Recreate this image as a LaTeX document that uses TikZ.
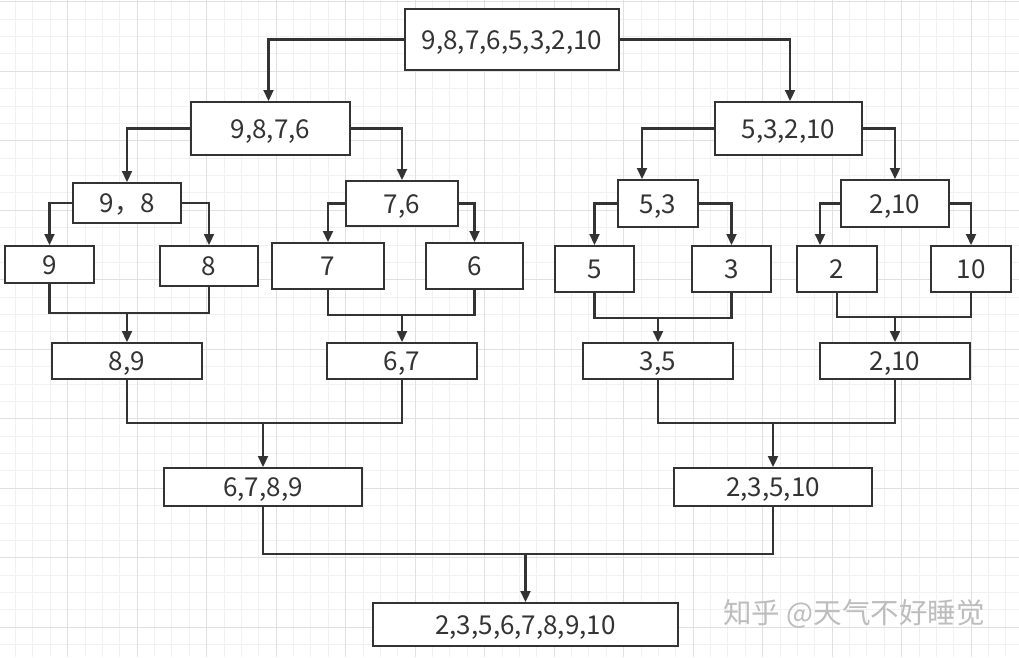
\documentclass[tikz,border=0pt]{standalone}
\usepackage{fontspec}
\setmainfont{Noto Sans CJK SC}
\usetikzlibrary{arrows.meta}
\definecolor{ink}{HTML}{333333}
\definecolor{gridminor}{HTML}{F1F1F1}
\definecolor{gridmajor}{HTML}{E0E0E0}
\definecolor{wm}{HTML}{BDBDBD}
\begin{document}
\begin{tikzpicture}[x=1pt,y=-1pt,
  box/.style={draw=ink, line width=2pt, fill=white, inner sep=0pt, text=ink,
    text height=19pt, text depth=0pt,
    font=\fontsize{26}{30}\selectfont},
  conn/.style={draw=ink, line width=2.2pt},
  arr/.style={conn, -{Triangle[length=11pt,width=10pt]}},
  minorline/.style={draw=gridminor, line width=1pt},
  majorline/.style={draw=gridmajor, line width=1pt},
  wmark/.style={text=wm, font=\fontsize{28.5}{32}\selectfont}]
\useasboundingbox (0,0) rectangle (1019,657);
\fill[white] (0,0) rectangle (1019,657);
% grid
\foreach \i in {0,...,59} {
  \pgfmathsetmacro{\gx}{-1.8+17.375*\i}
  \draw[minorline] (\gx,0) -- (\gx,657);
}
\foreach \i in {0,...,38} {
  \pgfmathsetmacro{\gy}{1.8+17.375*\i}
  \draw[minorline] (0,\gy) -- (1019,\gy);
}
\foreach \i in {0,...,15} {
  \pgfmathsetmacro{\gx}{-1.8+69.5*\i}
  \draw[majorline] (\gx,0) -- (\gx,657);
}
\foreach \i in {0,...,9} {
  \pgfmathsetmacro{\gy}{1.8+69.5*\i}
  \draw[majorline] (0,\gy) -- (1019,\gy);
}
% boxes
\node[box, minimum width=214pt, minimum height=61pt] (root) at (512,39.5) {9,8,7,6,5,3,2,10};
\node[box, minimum width=159pt, minimum height=53pt] (n9876) at (270.5,128.5) {9,8,7,6};
\node[box, minimum width=147pt, minimum height=53pt] (n53210) at (788.5,128.5) {5,3,2,10};
\node[box, minimum width=108pt, minimum height=40pt] (n98) at (127,203) {9，8};
\node[box, minimum width=112pt, minimum height=45pt] (n76) at (402,203.5) {7,6};
\node[box, minimum width=80pt, minimum height=47pt] (n53) at (658,203.5) {5,3};
\node[box, minimum width=108pt, minimum height=47pt] (n210) at (895,203.5) {2,10};
\node[box, minimum width=89pt, minimum height=37pt] (n9) at (49.5,264.5) {9};
\node[box, minimum width=98pt, minimum height=40pt] (n8) at (209,266) {8};
\node[box, minimum width=112pt, minimum height=46pt] (n7) at (328,266) {7};
\node[box, minimum width=97pt, minimum height=46pt] (n6) at (474.5,266) {6};
\node[box, minimum width=79pt, minimum height=46pt] (n5) at (594.5,269) {5};
\node[box, minimum width=79pt, minimum height=46pt] (n3) at (731.5,269) {3};
\node[box, minimum width=80pt, minimum height=46pt] (n2) at (837,269) {2};
\node[box, minimum width=80pt, minimum height=46pt] (n10) at (971,269) {10};
\node[box, minimum width=150pt, minimum height=36pt] (n89) at (127,361) {8,9};
\node[box, minimum width=150pt, minimum height=36pt] (n67) at (402,361) {6,7};
\node[box, minimum width=150pt, minimum height=36pt] (n35) at (658,361) {3,5};
\node[box, minimum width=150pt, minimum height=36pt] (n210b) at (895,361) {2,10};
\node[box, minimum width=198pt, minimum height=38pt] (n6789) at (263,487) {6,7,8,9};
\node[box, minimum width=198pt, minimum height=38pt] (n23510) at (773,487) {2,3,5,10};
\node[box, minimum width=305pt, minimum height=43pt] (final) at (525.5,624.5) {2,3,5,6,7,8,9,10};
% split connectors
\draw[arr] (root.west) -| ([xshift=-2pt]n9876.north);
\draw[arr] (root.east) -| ([xshift=1.5pt]n53210.north);
\draw[arr] (n9876.west) -| (n98.north);
\draw[arr] (n9876.east) -| (n76.north);
\draw[arr] (n53210.west) -| ([xshift=-16pt]n53.north);
\draw[arr] (n53210.east) -| (n210.north);
\draw[arr] (n98.west) -| (n9.north);
\draw[arr] (n98.east) -| (n8.north);
\draw[arr] (n76.west) -| (n7.north);
\draw[arr] (n76.east) -| (n6.north);
\draw[arr] (n53.west) -| (n5.north);
\draw[arr] (n53.east) -| (n3.north);
\draw[arr] (n210.west) -| ([xshift=-17pt]n2.north);
\draw[arr] (n210.east) -| (n10.north);
% merge connectors
\coordinate (j1) at (127,313);
\coordinate (j2) at (402,315);
\coordinate (j3) at (658,318);
\coordinate (j4) at (895,317);
\coordinate (j5) at (263,423);
\coordinate (j6) at (773,423);
\coordinate (j7) at (525.5,554);
\draw[conn] (n9.south) |- (j1) -| (n8.south);
\draw[arr] (j1) -- (n89.north);
\draw[conn] (n7.south) |- (j2) -| (n6.south);
\draw[arr] (j2) -- (n67.north);
\draw[conn] (n5.south) |- (j3) -| (n3.south);
\draw[arr] (j3) -- (n35.north);
\draw[conn] (n2.south) |- (j4) -| (n10.south);
\draw[arr] (j4) -- (n210b.north);
\draw[conn] (n89.south) |- (j5) -| (n67.south);
\draw[arr] (j5) -- (n6789.north);
\draw[conn] (n35.south) |- (j6) -| (n210b.south);
\draw[arr] (j6) -- (n23510.north);
\draw[conn] (n6789.south) |- (j7) -| (n23510.south);
\draw[arr] (j7) -- (final.north);
% watermark
\node[wmark] (wm) at (854,614) {知乎 @天气不好睡觉};
\end{tikzpicture}
\end{document}
